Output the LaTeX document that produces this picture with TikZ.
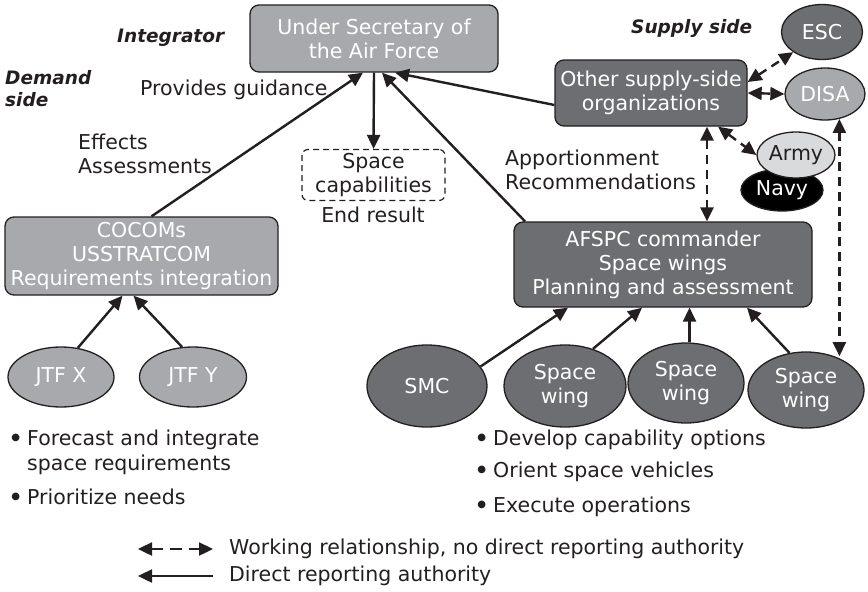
\documentclass[tikz,border=0pt]{standalone}
\usepackage{fontspec}
\setmainfont{DejaVu Sans}
\usetikzlibrary{arrows.meta,shapes.geometric}
\definecolor{lg}{HTML}{A7A9AC}
\definecolor{dg}{HTML}{6D6E71}
\definecolor{ag}{HTML}{D9DADB}
\definecolor{ink}{HTML}{231F20}
\newcommand{\bul}{\llap{\raisebox{5pt}{\fontsize{10}{10}\selectfont ●}\hspace{7pt}}}
\begin{document}
\begin{tikzpicture}[x=1pt,y=-1pt,
  font=\fontsize{20.5}{24}\selectfont, text=ink,
  box/.style={draw=ink, line width=1.3pt, rounded corners=9pt, align=center, text=white, inner sep=0pt},
  ell/.style={ellipse, draw=ink, line width=1.3pt, align=center, text=white, inner sep=0pt},
  rep/.style={draw=ink, line width=2.4pt, -{Triangle[length=14pt,width=13pt]}},
  work/.style={draw=ink, line width=2.4pt, dash pattern=on 9pt off 6pt, {Triangle[length=14pt,width=13pt]}-{Triangle[length=14pt,width=13pt]}},
  lab/.style={font=\bfseries\itshape\fontsize{18.5}{22}\selectfont, align=left, inner sep=0pt},
  txt/.style={align=left, inner sep=0pt}]
\useasboundingbox (0,0) rectangle (868,592);

% nodes
\node[box, fill=lg, minimum width=248pt, minimum height=67pt] (usaf) at (374,38.5) {Under Secretary of\\the Air Force};
\node[draw=ink, dash pattern=on 6pt off 4pt, rounded corners=6pt, line width=1.2pt, minimum width=143pt, minimum height=51pt, align=center, inner sep=0pt] (cap) at (373.5,175) {Space\\capabilities};
\node (endr) at (373,215) {End result};
\node[box, fill=lg, minimum width=273pt, minimum height=78pt] (cocom) at (141.5,256) {COCOMs\\USSTRATCOM\\Requirements integration};
\node[ell, fill=lg, minimum width=106pt, minimum height=60pt] (jx) at (61,377) {JTF X};
\node[ell, fill=lg, minimum width=107pt, minimum height=60pt] (jy) at (193,377) {JTF Y};

\node[box, fill=dg, minimum width=192pt, minimum height=66pt] (other) at (651,93) {Other supply-side\\organizations};
\node[box, fill=dg, minimum width=298pt, minimum height=85pt] (afspc) at (663,264.5) {AFSPC commander\\Space wings\\Planning and assessment};
\node[ell, fill=dg, minimum width=81pt, minimum height=55pt] (esc) at (822,32) {ESC};
\node[ell, fill=lg, minimum width=80pt, minimum height=52pt] (disa) at (825,94) {DISA};
\node[ell, fill=black, minimum width=82pt, minimum height=42pt] (navy) at (782,190) {Navy};
\node[ell, fill=ag, text=ink, minimum width=78pt, minimum height=46pt] (army) at (796,155) {Army};

\node[ell, fill=dg, minimum width=120pt, minimum height=82pt] (smc) at (427,386) {SMC};
\node[ell, fill=dg, minimum width=122pt, minimum height=82pt] (w1) at (565,386) {Space\\wing};
\node[ell, fill=dg, minimum width=116pt, minimum height=80pt] (w2) at (686,383) {Space\\wing};
\node[ell, fill=dg, minimum width=116pt, minimum height=76pt] (w3) at (806,390) {Space\\wing};

% labels
\node[lab, anchor=west] (integ) at (117,38) {Integrator};
\node[lab, anchor=west] (demand) at (5,89) {Demand\\side};
\node[lab, anchor=west] (supply) at (631,28) {Supply side};
\node[txt, anchor=west] (guid) at (140,90) {Provides guidance};
\node[txt, anchor=west] (effects) at (78,153.5) {Effects\\Assessments};
\node[txt, anchor=west] (appor) at (505,169.5) {Apportionment\\Recommendations};

\node[txt, anchor=west] (b1) at (27,440) {\bul Forecast and integrate};
\node[txt, anchor=west] (b1b) at (27,465) {space requirements};
\node[txt, anchor=west] (b2) at (27,497) {\bul Prioritize needs};
\node[txt, anchor=west] (b3) at (493,440) {\bul Develop capability options};
\node[txt, anchor=west] (b4) at (493,472) {\bul Orient space vehicles};
\node[txt, anchor=west] (b5) at (493,507) {\bul Execute operations};

% connectors: direct reporting
\draw[rep] (usaf.south) -- (cap.north);
\draw[rep] ([xshift=10pt]cocom.north) -- ([xshift=-11pt]usaf.south);
\draw[rep] ([xshift=-138pt]afspc.north) -- ([xshift=8pt]usaf.south);
\draw[rep] ([yshift=-12pt]other.west) -- ([xshift=21pt]usaf.south);
\draw[rep] (jx.60) -- ([xshift=-19pt]cocom.south);
\draw[rep] (jy.110) -- ([xshift=-8pt]cocom.south);
\draw[rep] (smc.20) -- ([xshift=-95pt]afspc.south);
\draw[rep] (w1.53) -- ([xshift=-21pt]afspc.south);
\draw[rep] (w2.85) -- (w2.85 |- afspc.south);
\draw[rep] (w3.114) -- ([xshift=84pt]afspc.south);

% working relationships
\draw[work] ([xshift=56pt]other.south) -- ([xshift=44pt]afspc.north);
\draw[work] ([yshift=11pt]other.east) -- (esc.215);
\draw[work] (other.east) -- (disa.west);
\draw[work] ([xshift=67pt]other.south) -- (army.west);
\draw[work] (disa.300) -- (disa.300 |- w3.50);

% legend
\coordinate (l1a) at (138,549);
\coordinate (l1b) at (213,549);
\coordinate (l2a) at (213,576);
\coordinate (l2b) at (138,576);
\draw[work, dash pattern=on 12pt off 7pt] (l1a) -- (l1b);
\draw[rep] (l2a) -- (l2b);
\node[txt, anchor=west] (leg1) at (229,549) {Working relationship, no direct reporting authority};
\node[txt, anchor=west] (leg2) at (229,576) {Direct reporting authority};
\end{tikzpicture}
\end{document}
